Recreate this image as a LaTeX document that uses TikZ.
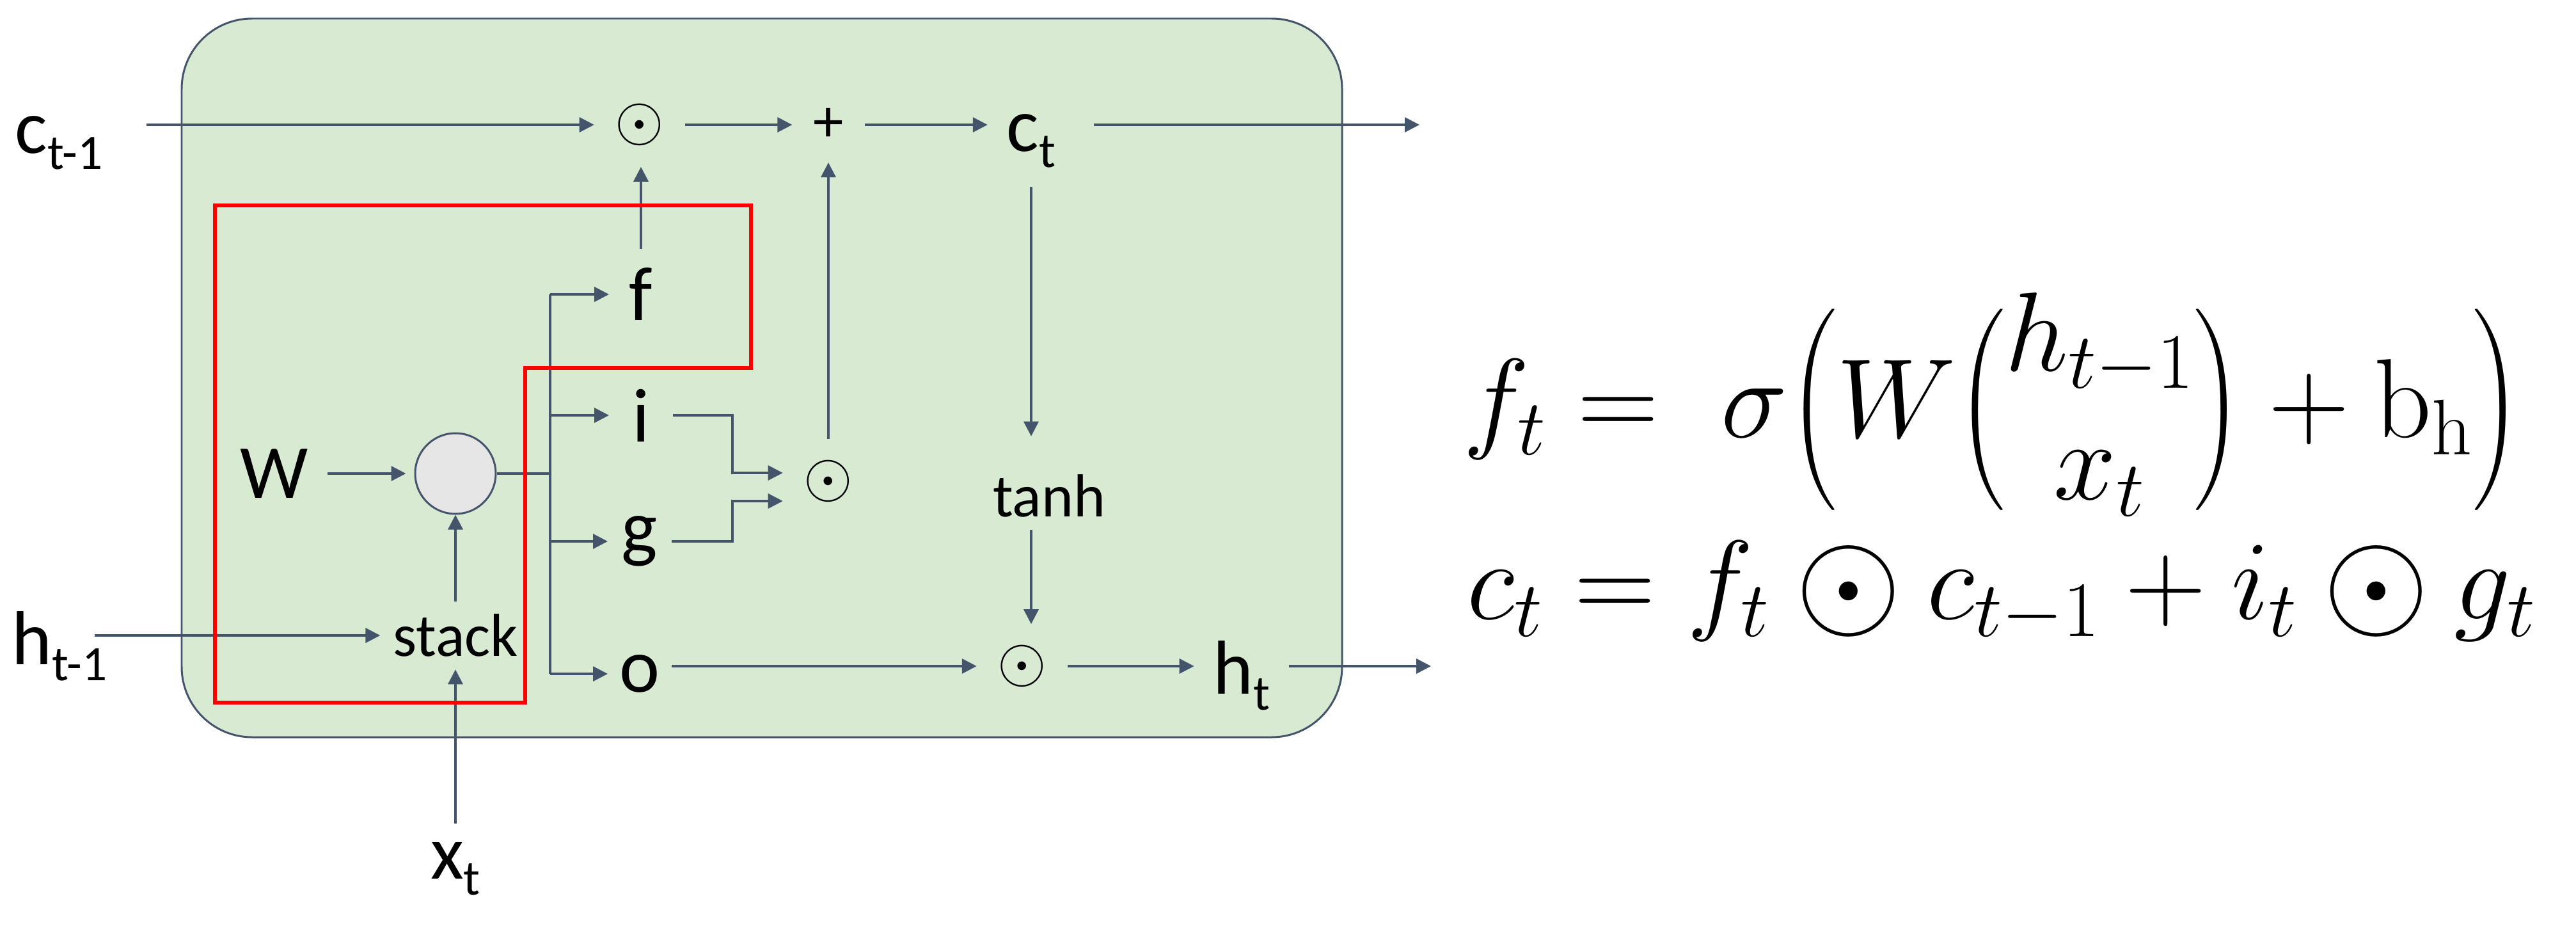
\documentclass[tikz,border=0pt]{standalone}
\usepackage{fix-cm}
\usepackage{amsmath}
\usepackage[no-math]{fontspec}
\setmainfont{Carlito}
\usepackage{xcolor,graphicx,tikz}
\usetikzlibrary{arrows.meta}
\definecolor{slate}{HTML}{44546A}
\definecolor{mint}{HTML}{D9EAD3}
\definecolor{pebble}{HTML}{E7E6E6}
\newcommand{\lsub}[1]{\raisebox{-0.25cm}{\fontsize{22}{24}\selectfont #1}}
\newcommand{\hprod}{\mathbin{\vcenter{\hbox{\scalebox{1.22}{$\odot$}}}}}

\begin{document}
\begin{tikzpicture}[lbl/.style={font=\fontsize{34}{40}\selectfont,inner sep=0pt,outer sep=0.3cm},
 sml/.style={font=\fontsize{27}{32}\selectfont,inner sep=0pt,outer sep=0.2cm},
 gate/.style={lbl,minimum width=0.9cm,outer xsep=0.05cm},
 op/.style={font=\fontsize{28}{32}\selectfont,inner sep=0pt,outer sep=0.33cm},
 eq/.style={anchor=west,inner sep=0pt,font=\fontsize{50}{57}\selectfont},
 arr/.style={draw=slate,line width=1pt,-{Triangle[length=2.3mm,width=2.3mm]}},
 line/.style={draw=slate,line width=1pt}]
 \useasboundingbox (0,0) rectangle (40.27,-14.58);
 \draw[draw=slate,fill=mint,line width=0.85pt,rounded corners=1.1cm] (2.84,-0.29) rectangle (20.98,-11.52);

 \node[lbl] (cprev) at (0.92,-2.23) {c\lsub{t-1}};
 \node[op] (o1) at (10.00,-1.95) {$\odot$};
 \node[op,font=\fontsize{27}{32}\selectfont] (plus) at (12.95,-1.95) {+};
 \node[lbl] (ct) at (16.12,-2.20) {c\lsub{t}};
 \coordinate (cout) at (22.19,-1.95);
 \node[gate] (f) at (10.02,-4.60) {f};
 \node[gate] (i) at (10.02,-6.49) {i};
 \node[gate] (g) at (10.00,-8.46) {g};
 \node[gate] (o) at (10.00,-10.53) {o};
 \node[lbl] (W) at (4.29,-7.40) {W};
 \node[circle,draw=slate,fill=pebble,line width=0.85pt,minimum size=1.26cm,inner sep=0pt] (mm) at (7.12,-7.40) {};
 \coordinate (split) at (8.60,-7.40);
 \node[sml] (stack) at (7.12,-9.93) {stack};
 \node[lbl] (hprev) at (0.93,-10.10) {h\lsub{t-1}};
 \node[lbl] (xt) at (7.12,-13.58) {x\lsub{t}};
 \node[op] (o2) at (12.95,-7.52) {$\odot$};
 \node[sml] (tanh) at (16.40,-7.75) {tanh};
 \node[op] (o3) at (15.98,-10.41) {$\odot$};
 \node[lbl] (ht) at (19.41,-10.56) {h\lsub{t}};
 \coordinate (hout) at (22.37,-10.41);

 \draw[arr,shorten <=0.39cm] (cprev.east |- o1) -- (o1.west);
 \draw[arr] (o1) -- (plus);
 \draw[arr] (plus) -- (ct.west |- plus);
 \draw[arr,shorten <=0.3cm] (ct.east |- plus) -- (cout);
 \draw[arr] (f.north) -- (f.north |- o1.south);
 \draw[arr] (o2) -- (plus);
 \draw[arr,shorten >=0.4cm] (ct.south) -- (ct.south |- tanh.north);
 \draw[arr] (ct.south |- tanh.south) -- (ct.south |- o3.north);
 \draw[arr,shorten >=0.13cm] (W) -- (mm);
 \draw[arr] (stack) -- (mm);
 \draw[arr] (xt) -- (stack);
 \draw[arr,shorten <=-0.5cm] (hprev.east |- stack) -- (stack.west);
 \draw[line] (mm) -- (split);
 \draw[line] (split |- f) -- (split |- o);
 \foreach \n in {f,i,g,o}{\draw[arr] (split |- \n) -- (\n);}
 \draw[arr] (i.east) -- ++(0.93,0) |- ([yshift=0.13cm]o2.west);
 \draw[arr] (g.east) -- ++(0.95,0) |- ([yshift=-0.31cm]o2.west);
 \draw[arr] (o.east |- o3) -- (o3);
 \draw[arr] (o3) -- (ht.west |- o3);
 \draw[arr] (ht.east |- o3) -- (hout);

 \draw[red,line width=1.6pt] (3.36,-3.21) -- (11.74,-3.21) -- (11.74,-5.75) -- (8.21,-5.75) -- (8.21,-10.98) -- (3.36,-10.98) -- cycle;

 \node[eq] (eqf) at (22.87,-6.40) {$f_t =\; \sigma\Bigl(W\Bigl(\begin{matrix}h_{t-1}\\ x_t\end{matrix}\Bigr)+\mathrm{b}_{\mathrm{h}}\Bigr)$};
 \node[eq] (eqc) at (22.93,-9.25) {$c_t = f_t \hprod c_{t-1} + i_t \hprod g_t$};
\end{tikzpicture}
\end{document}
